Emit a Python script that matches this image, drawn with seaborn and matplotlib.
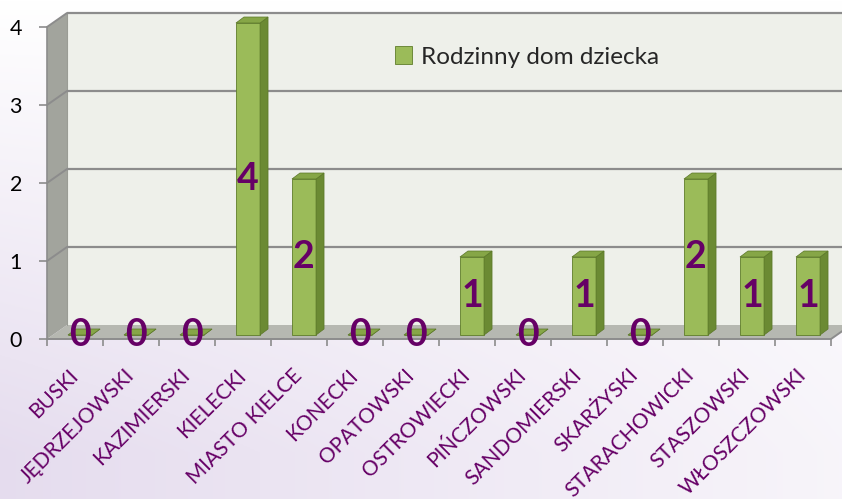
import numpy as np
import pandas as pd
import matplotlib
matplotlib.use("Agg")
import matplotlib.pyplot as plt
import seaborn as sns
from matplotlib.patches import Polygon
from matplotlib.transforms import ScaledTranslation

# ---- data -------------------------------------------------------------
powiaty = ["BUSKI", "JĘDRZEJOWSKI", "KAZIMIERSKI", "KIELECKI", "MIASTO KIELCE",
           "KONECKI", "OPATOWSKI", "OSTROWIECKI", "PIŃCZOWSKI", "SANDOMIERSKI",
           "SKARŻYSKI", "STARACHOWICKI", "STASZOWSKI", "WŁOSZCZOWSKI"]
liczba = [0, 0, 0, 4, 2, 0, 0, 1, 0, 1, 0, 2, 1, 1]
seria = "Rodzinny dom dziecka"
y_ticks = [0, 1, 2, 3, 4]

df = pd.DataFrame({"powiat": powiaty, "liczba": liczba, "typ": seria})

# ---- style ------------------------------------------------------------
sns.set_theme(style="white")
plt.rcParams["font.family"] = ["Lato", "DejaVu Sans"]

DPI = 100
W, H = 842, 499
fig = plt.figure(figsize=(W / DPI, H / DPI), dpi=DPI)

PURPLE = "#660066"
GRID = "#8c8c8c"
FRONT = "#9bbb59"
SIDE = "#6b8a33"
TOP = "#86a647"

# soft lavender backdrop
bg = fig.add_axes([0, 0, 1, 1], zorder=-10)
bg.axis("off")
yy, xx = np.mgrid[0:1:200j, 0:1:300j]
amt = np.clip(yy * 1.1, 0, 1) * (1 - 0.7 * xx)
lav = np.array([0.90, 0.865, 0.935])
img = 1 - amt[..., None] * (1 - lav)[None, None, :]
bg.imshow(img, aspect="auto", extent=[0, 1, 0, 1], origin="upper")
bg.set_xlim(0, 1)
bg.set_ylim(0, 1)

# plot area = front edge of the 3-D box
left_px, right_px, bottom_px, top_px = 47, 831, 339, 27
ax = fig.add_axes([left_px / W, (H - bottom_px) / H,
                   (right_px - left_px) / W, (bottom_px - top_px) / H])

sns.barplot(data=df, x="powiat", y="liczba", hue="typ", palette=[FRONT],
            width=0.43, saturation=1, edgecolor="#5f7d2a", linewidth=0.6,
            ax=ax, legend=True)
bars = list(ax.patches)

n = len(powiaty)
ax.set_xlim(-0.5, n - 0.5)
ax.set_ylim(0, 4)
ax.set_facecolor("none")
for s in ax.spines.values():
    s.set_visible(False)

ppx = (right_px - left_px) / n          # pixels per category
ppy = (bottom_px - top_px) / 4          # pixels per unit


def shift(px, py):
    return ax.transData + ScaledTranslation(px / DPI, py / DPI, fig.dpi_scale_trans)


# box depth
DX, DY = 20 / ppx, 14 / ppy
x0, x1 = -0.5, n - 0.5

back = Polygon([(x0 + DX, DY), (x1 + DX + 1, DY), (x1 + DX + 1, 4 + DY), (x0 + DX, 4 + DY)],
               closed=True, facecolor="#eef0ea", edgecolor="none", zorder=0, clip_on=False)
side = Polygon([(x0, 0), (x0 + DX, DY), (x0 + DX, 4 + DY), (x0, 4)],
               closed=True, facecolor="#a2a49d", edgecolor="none", zorder=0.4, clip_on=False)
floor = Polygon([(x0, 0), (x1, 0), (x1 + DX, DY), (x0 + DX, DY)],
                closed=True, facecolor="#b6b8b1", edgecolor="none", zorder=0.4, clip_on=False)
for p in (back, side, floor):
    ax.add_patch(p)

for v in y_ticks[1:]:
    ax.plot([x0 + DX, x1 + DX + 1], [v + DY, v + DY], color=GRID, lw=1.6,
            zorder=0.5, clip_on=False, solid_capstyle="butt")
    ax.plot([x0, x0 + DX], [v, v + DY], color=GRID, lw=1.4, zorder=0.5, clip_on=False)
ax.plot([x0 + DX, x0 + DX], [DY, 4 + DY], color="#9a9c95", lw=0.8, zorder=0.45, clip_on=False)
ax.plot([x0, x1, x1 + DX], [0, 0, DY], color=GRID, lw=1.4, zorder=0.6, clip_on=False)
ax.plot([x0, x0], [0, 4], color=GRID, lw=1.2, zorder=0.6, clip_on=False)

# 3-D bars: front face from seaborn, side and top faces from its geometry
bar_tr = shift(5, 4)
BDX, BDY = 8 / ppx, 6 / ppy
for p, v in zip(bars, liczba):
    p.set_transform(bar_tr)
    p.set_clip_on(False)
    p.set_zorder(2)
    bx, bw, bh = p.get_x(), p.get_width(), p.get_height()
    ax.add_patch(Polygon([(bx + bw, 0), (bx + bw + BDX, BDY), (bx + bw + BDX, bh + BDY), (bx + bw, bh)],
                         closed=True, facecolor=SIDE, edgecolor="#5a7627", lw=0.5,
                         transform=bar_tr, zorder=2, clip_on=False))
    ax.add_patch(Polygon([(bx, bh), (bx + bw, bh), (bx + bw + BDX, bh + BDY), (bx + BDX, bh + BDY)],
                         closed=True, facecolor=TOP, edgecolor="#5a7627", lw=0.5,
                         transform=bar_tr, zorder=2.1, clip_on=False))
    ax.text(bx + bw / 2, bh / 2, f"{v}", transform=bar_tr, ha="center", va="center",
            color=PURPLE, fontsize=27, fontweight="bold", zorder=5, clip_on=False)

# axes ticks
ax.set_yticks(y_ticks)
ax.set_yticklabels([str(v) for v in y_ticks])
ax.tick_params(axis="y", left=True, length=6, width=1.2, color=GRID, pad=12,
               labelsize=15.5, labelcolor="black")
ax.set_xticks(range(n))
ax.set_xticks(np.arange(-0.5, n, 1), minor=True)
ax.tick_params(axis="x", which="major", bottom=True, length=0, pad=24,
               labelsize=15, labelcolor=PURPLE)
ax.tick_params(axis="x", which="minor", bottom=True, length=5, width=1.2, color=GRID)
ax.set_xticklabels(powiaty, rotation=45, ha="right", rotation_mode="anchor", va="center")
ax.set_xlabel("")
ax.set_ylabel("")

# legend
leg = ax.get_legend()
handles, labels = ax.get_legend_handles_labels()
if leg is not None:
    leg.remove()
ax.legend(handles, labels, loc="center left", bbox_to_anchor=(395 / W, 1 - 57 / H),
          bbox_transform=fig.transFigure, frameon=False, borderpad=0, borderaxespad=0,
          handlelength=0.7, handleheight=0.7, handletextpad=0.35, fontsize=17.5)

fig.savefig("out.png", dpi=DPI)
